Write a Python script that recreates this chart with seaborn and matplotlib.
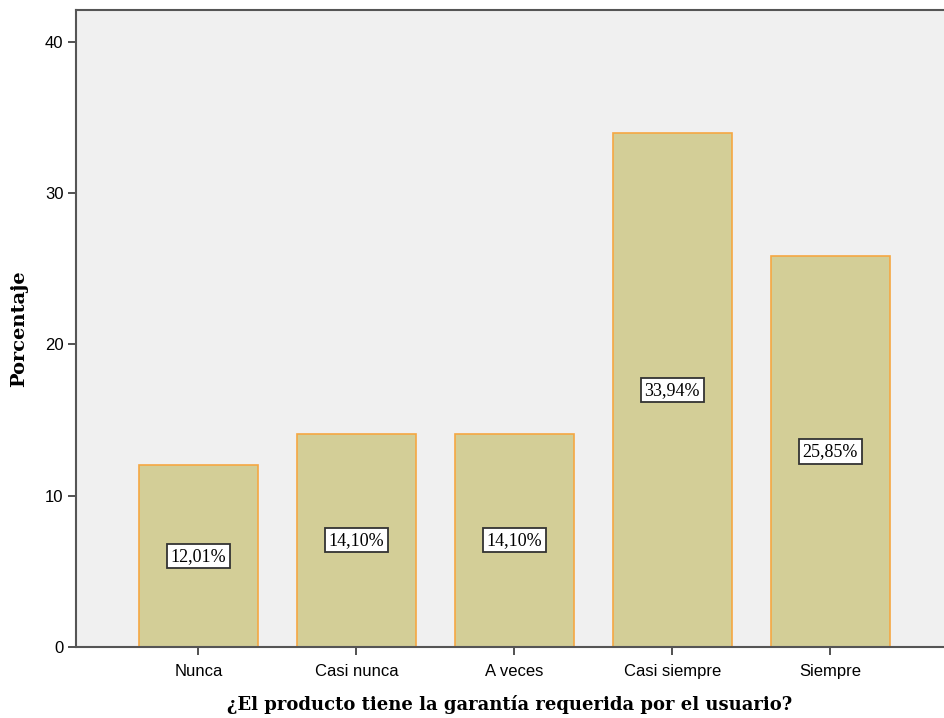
import matplotlib
matplotlib.use("Agg")
import matplotlib.pyplot as plt
import seaborn as sns
import pandas as pd

categories = ["Nunca", "Casi nunca", "A veces", "Casi siempre", "Siempre"]
values = [12.01, 14.10, 14.10, 33.94, 25.85]
value_labels = ["12,01%", "14,10%", "14,10%", "33,94%", "25,85%"]
yticks = [0, 10, 20, 30, 40]

df = pd.DataFrame({"cat": categories, "pct": values})

sns.set_style("white")
plt.rcParams["text.color"] = "black"
plt.rcParams["axes.labelcolor"] = "black"
plt.rcParams["xtick.color"] = "black"
plt.rcParams["ytick.color"] = "black"

fig = plt.figure(figsize=(9.44, 7.18), dpi=100)
ax = fig.add_axes([76/944, 71/718, 1 - 76/944, (647-10)/718])
ax.set_facecolor("#F0F0F0")

sns.barplot(data=df, x="cat", y="pct", ax=ax, color="#D3CE97", saturation=1,
            width=0.753, edgecolor="#F5A742", linewidth=1.2)

for i, (v, lab) in enumerate(zip(values, value_labels)):
    ax.text(i, v / 2, lab, ha="center", va="center", fontsize=13,
            family="Liberation Serif", color="black",
            bbox=dict(boxstyle="square,pad=0.2", fc="white", ec="#333333", lw=1.3))

ax.set_xlim(-0.775, 4.72)
ax.set_ylim(0, 42.1)
ax.set_yticks(yticks)
ax.set_yticklabels([str(t) for t in yticks], family="Liberation Sans", fontsize=12)
ax.set_xticks(range(len(categories)))
ax.set_xticklabels(categories, family="Liberation Sans", fontsize=12)
ax.tick_params(axis="both", length=6, width=1.2, color="#333333", direction="out",
               left=True, bottom=True, pad=3)
ax.tick_params(axis="x", pad=6)

for s in ["left", "bottom", "top"]:
    ax.spines[s].set_color("#555555")
    ax.spines[s].set_linewidth(1.5)
ax.spines["right"].set_visible(False)

ax.set_xlabel("¿El producto tiene la garantía requerida por el usuario?",
              family="DejaVu Serif", fontweight="bold", fontsize=13, labelpad=12)
ax.set_ylabel("Porcentaje", family="DejaVu Serif", fontweight="bold",
              fontsize=14, labelpad=12)

fig.savefig("out.png", dpi=100)
